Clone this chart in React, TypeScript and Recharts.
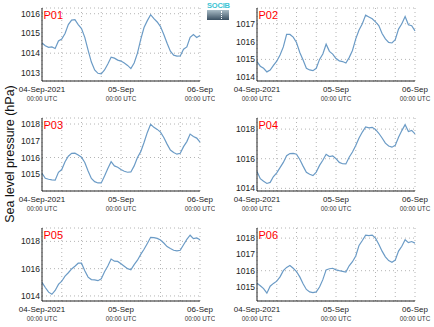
import { CartesianGrid, Line, LineChart, XAxis, YAxis } from 'recharts'

// hourly sea level pressure (hPa), 04-Sep-2021 00:00 UTC .. 06-Sep-2021 00:00 UTC
const p01 = [
  1014.52, 1014.38, 1014.3, 1014.32, 1014.24, 1014.62, 1014.72, 1015.0, 1015.45, 1015.68,
  1015.7, 1015.45, 1015.25, 1014.8, 1014.15, 1013.55, 1013.15, 1012.98, 1012.95, 1013.15,
  1013.45, 1013.8, 1013.75, 1013.65, 1013.6, 1013.5, 1013.38, 1013.22, 1013.5, 1014.0,
  1014.7, 1015.3, 1015.65, 1015.95, 1015.75, 1015.58, 1015.35, 1014.95, 1014.5, 1014.1,
  1013.9, 1013.85, 1013.86, 1014.2, 1014.32, 1014.8, 1014.95, 1014.8, 1014.9,
]
const p02 = [
  1014.88, 1014.62, 1014.5, 1014.3, 1014.4, 1014.66, 1014.9, 1015.25, 1015.7, 1016.4,
  1016.4, 1016.25, 1015.95, 1015.39, 1014.97, 1014.5, 1014.41, 1014.37, 1014.5, 1015.0,
  1015.3, 1015.85, 1015.45, 1015.3, 1015.05, 1014.92, 1014.88, 1014.8, 1015.1, 1015.5,
  1016.15, 1016.65, 1017.0, 1017.48, 1017.38, 1017.28, 1017.1, 1016.9, 1016.45, 1016.15,
  1015.95, 1015.92, 1016.1, 1016.7, 1017.0, 1017.4, 1016.94, 1016.89, 1016.6,
]
const p03 = [
  1015.06, 1014.76, 1014.7, 1014.66, 1014.65, 1015.12, 1015.28, 1015.75, 1016.08, 1016.25,
  1016.26, 1016.15, 1016.02, 1015.7, 1015.2, 1014.75, 1014.56, 1014.48, 1014.48, 1014.9,
  1015.35, 1015.75, 1015.5, 1015.42, 1015.28, 1015.18, 1015.12, 1015.14, 1015.5, 1016.0,
  1016.35, 1016.9, 1017.5, 1017.98, 1017.8, 1017.68, 1017.52, 1017.2, 1016.8, 1016.45,
  1016.3, 1016.2, 1016.25, 1016.65, 1016.95, 1017.4, 1017.26, 1017.16, 1016.92,
]
const p04 = [
  1015.13, 1014.65, 1014.48, 1014.33, 1014.4, 1014.8, 1015.05, 1015.4, 1015.75, 1016.2,
  1016.35, 1016.36, 1016.3, 1015.95, 1015.5, 1015.08, 1014.95, 1014.86, 1015.1, 1015.55,
  1015.9, 1016.3, 1016.15, 1016.19, 1016.0, 1015.75, 1015.66, 1015.65, 1016.1, 1016.45,
  1016.9, 1017.4, 1017.8, 1018.15, 1018.08, 1018.12, 1017.98, 1017.72, 1017.4, 1017.05,
  1016.86, 1016.78, 1016.9, 1017.45, 1017.9, 1018.3, 1017.84, 1017.91, 1017.68,
]
const p05 = [
  1015.0, 1014.62, 1014.28, 1014.12, 1014.4, 1014.85, 1015.08, 1015.45, 1015.7, 1015.98,
  1016.18, 1016.4, 1016.4, 1015.85, 1015.38, 1015.2, 1015.18, 1015.12, 1015.25, 1015.78,
  1016.2, 1016.7, 1016.55, 1016.53, 1016.36, 1016.18, 1016.0, 1015.92, 1016.3, 1016.62,
  1017.05, 1017.42, 1017.85, 1018.3, 1018.28, 1018.22, 1018.1, 1017.88, 1017.62, 1017.48,
  1017.35, 1017.31, 1017.35, 1017.75, 1018.15, 1018.45, 1018.2, 1018.25, 1018.12,
]
const p06 = [
  1015.23, 1015.08, 1014.9, 1014.62, 1015.05, 1015.22, 1015.36, 1015.62, 1016.0, 1016.2,
  1016.32, 1016.15, 1015.95, 1015.62, 1015.2, 1014.85, 1014.7, 1014.65, 1014.7, 1015.0,
  1015.45, 1016.05, 1016.12, 1016.15, 1016.05, 1016.0, 1015.96, 1015.92, 1016.3, 1016.55,
  1016.9, 1017.55, 1017.85, 1018.18, 1018.15, 1018.18, 1018.0, 1017.62, 1017.2, 1016.85,
  1016.62, 1016.52, 1016.65, 1017.2, 1017.5, 1017.9, 1017.72, 1017.79, 1017.69,
]

const hourTicks = [0, 6, 12, 18, 24, 30, 36, 42, 48]
const dayLabels: Record<number, string> = { 0: '04-Sep-2021', 24: '05-Sep', 48: '06-Sep' }

const panels = [
  { name: 'P01', values: p01, domain: [1012.59, 1016.29], ticks: [1013, 1014, 1015, 1016], left: 0, top: 0 },
  { name: 'P02', values: p02, domain: [1013.79, 1017.88], ticks: [1014, 1015, 1016, 1017], left: 215, top: 0 },
  { name: 'P03', values: p03, domain: [1014.0, 1018.36], ticks: [1015, 1016, 1017, 1018], left: 0, top: 110 },
  { name: 'P04', values: p04, domain: [1013.82, 1018.75], ticks: [1014, 1015, 1016, 1017, 1018], left: 215, top: 110 },
  { name: 'P05', values: p05, domain: [1013.63, 1018.98], ticks: [1014, 1016, 1018], left: 0, top: 220 },
  { name: 'P06', values: p06, domain: [1014.14, 1018.62], ticks: [1015, 1016, 1017, 1018], left: 215, top: 220 },
]

const font = '"Liberation Sans", Arial, sans-serif'

function TimeTick(props: any) {
  const { x, y, payload } = props
  const label = dayLabels[payload.value]
  if (!label) return null
  return (
    <g>
      <text x={x} y={y + 11} textAnchor="middle" fontSize={8} fill="#222" fontFamily={font}>
        {label}
      </text>
      <text x={x} y={y + 19.5} textAnchor="middle" fontSize={6.3} fill="#333" fontFamily={font}>
        00:00 UTC
      </text>
    </g>
  )
}

function Panel({ panel }: { panel: (typeof panels)[number] }) {
  const data = panel.values.map((p, i) => ({ h: i, p }))
  const isLeft = panel.left === 0
  const width = isLeft ? 215 : 219
  return (
    <div style={{ position: 'absolute', left: panel.left, top: panel.top }}>
      <LineChart width={width} height={110} data={data} margin={{ top: 8, right: isLeft ? 15 : 19, bottom: 0, left: 0 }}>
        <CartesianGrid stroke="#b4b4b4" strokeDasharray="1 3" />
        <XAxis
          dataKey="h"
          type="number"
          domain={[0, 48]}
          ticks={hourTicks}
          height={29}
          tickSize={0}
          tickMargin={0}
          tickLine={false}
          axisLine={{ stroke: '#222' }}
          tick={<TimeTick />}
          interval={0}
        />
        <XAxis xAxisId="top" dataKey="h" type="number" domain={[0, 48]} orientation="top" height={0} tick={false} tickLine={false} axisLine={{ stroke: '#222' }} />
        <YAxis
          type="number"
          domain={panel.domain}
          ticks={panel.ticks}
          width={42}
          tickSize={0}
          tickMargin={2}
          tickLine={false}
          axisLine={{ stroke: '#222' }}
          allowDataOverflow
          tick={{ fontSize: 8.5, fill: '#222', fontFamily: font }}
        />
        <YAxis yAxisId="right" orientation="right" width={0} domain={panel.domain} tick={false} tickLine={false} axisLine={{ stroke: '#222' }} />
        <Line type="linear" dataKey="p" stroke="#6b9bc6" strokeWidth={1.2} dot={false} isAnimationActive={false} />
      </LineChart>
      <div
        style={{
          position: 'absolute',
          left: 43.5,
          top: 10,
          fontFamily: font,
          fontSize: 11,
          lineHeight: '11px',
          color: '#f00',
        }}
      >
        {panel.name}
      </div>
    </div>
  )
}

export default function App() {
  return (
    <div style={{ position: 'absolute', left: 0, top: 0, width: 434, height: 327, background: '#fff', overflow: 'hidden' }}>
      {panels.map(p => (
        <Panel key={p.name} panel={p} />
      ))}
      <div
        style={{
          position: 'absolute',
          left: 10 - 100,
          top: 154 - 8,
          width: 200,
          height: 16,
          lineHeight: '16px',
          textAlign: 'center',
          fontFamily: font,
          fontSize: 12.5,
          color: '#111',
          transform: 'rotate(-90deg)',
        }}
      >
        Sea level pressure (hPa)
      </div>
      <div style={{ position: 'absolute', left: 207, top: 3, width: 22 }}>
        <div style={{ fontFamily: font, fontSize: 7.5, lineHeight: '6px', color: '#3cc4d4', fontWeight: 'bold', textAlign: 'center', letterSpacing: -0.2 }}>
          SOCIB
        </div>
        <div
          style={{
            height: 10,
            marginTop: 1,
            background: 'linear-gradient(#a9bcc6, #3a5062)',
            position: 'relative',
          }}
        >
          <div style={{ position: 'absolute', left: 14, top: 1, height: 8, borderLeft: '1px dotted #fff' }} />
        </div>
      </div>
    </div>
  )
}
